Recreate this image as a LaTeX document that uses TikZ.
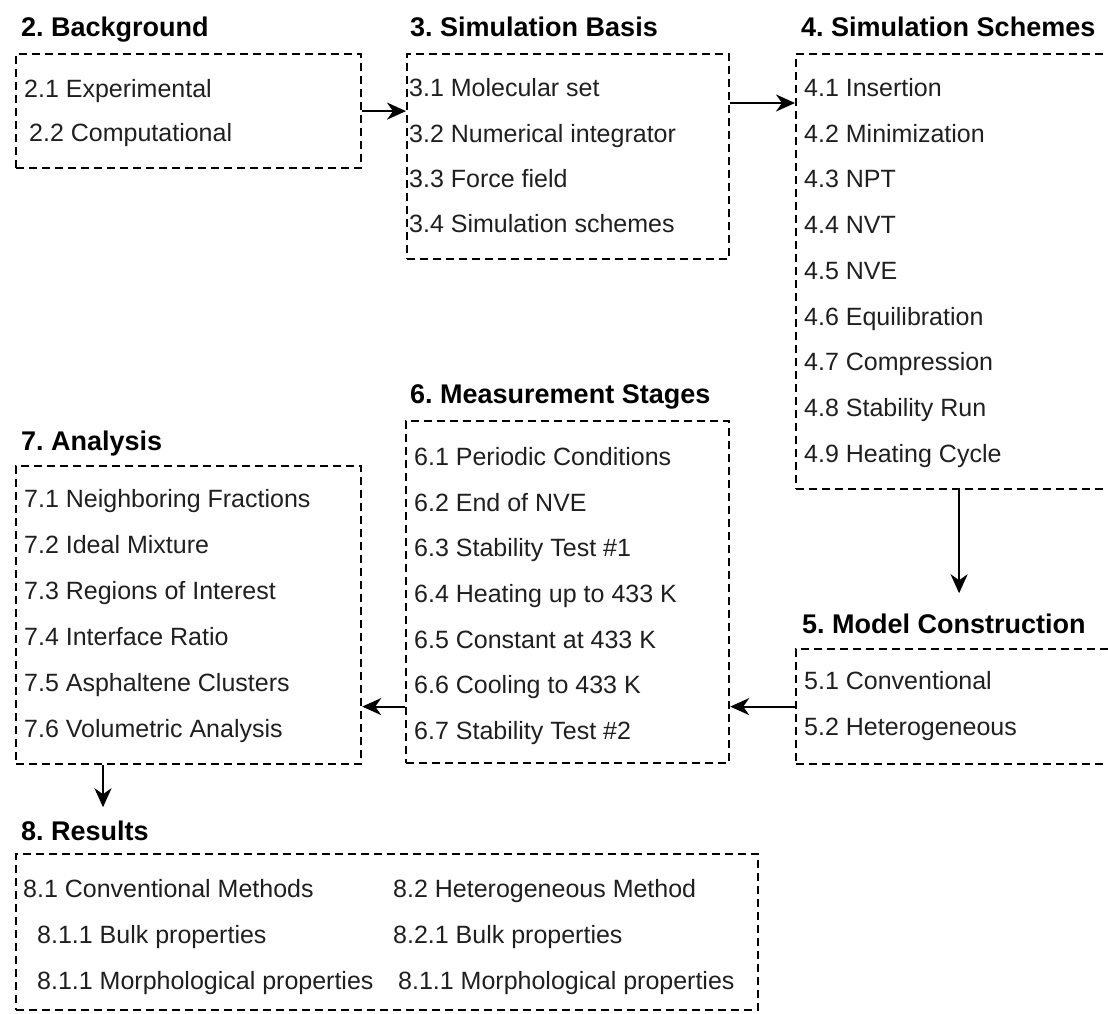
\documentclass[tikz,border=0pt]{standalone}
\usepackage{fontspec}
\setmainfont{Liberation Sans}
\usetikzlibrary{arrows.meta}
\frenchspacing

\begin{document}
\begin{tikzpicture}[x=1pt,y=-1pt,
  dashbox/.style={draw=black,line width=2.2pt,dash pattern=on 8pt off 5pt,inner sep=0pt,anchor=north west},
  head/.style={anchor=base west,inner sep=0pt,font=\fontsize{27}{32}\selectfont\bfseries},
  entry/.style={anchor=base west,inner sep=0pt,text=black!88,font=\fontsize{25}{30}\selectfont},
  arr/.style={-{Stealth[length=19pt,width=17pt,inset=6pt]},line width=2.2pt}]
\clip (0,0) rectangle (1108,1013);
% 2. Background
\node[head] (bgtitle) at (21,36) {2. Background};
\node[dashbox,minimum width=345pt,minimum height=114pt] (bgbox) at (15,53) {};
\node[entry] (bg1) at (24,97) {2.1 Experimental};
\node[entry] (bg2) at (29,141) {2.2 Computational};
% 3. Simulation Basis
\node[head] (sbtitle) at (410,36) {3. Simulation Basis};
\node[dashbox,minimum width=322pt,minimum height=205pt] (sbbox) at (406,53) {};
\node[entry] (sb1) at (409,96) {3.1 Molecular set};
\node[entry] (sb2) at (409,142) {3.2 Numerical integrator};
\node[entry] (sb3) at (409,187) {3.3 Force field};
\node[entry] (sb4) at (409,232) {3.4 Simulation schemes};
% 4. Simulation Schemes
\node[head] (sstitle) at (801,36) {4. Simulation Schemes};
\node[dashbox,minimum width=326pt,minimum height=435pt] (ssbox) at (795,53) {};
\node[entry] (ss1) at (804,96) {4.1 Insertion};
\node[entry] (ss2) at (804,142) {4.2 Minimization};
\node[entry] (ss3) at (804,187) {4.3 NPT};
\node[entry] (ss4) at (804,233) {4.4 NVT};
\node[entry] (ss5) at (804,279) {4.5 NVE};
\node[entry] (ss6) at (804,325) {4.6 Equilibration};
\node[entry] (ss7) at (804,370) {4.7 Compression};
\node[entry] (ss8) at (804,416) {4.8 Stability Run};
\node[entry] (ss9) at (804,462) {4.9 Heating Cycle};
% 5. Model Construction
\node[head] (mctitle) at (802,633) {5. Model Construction};
\node[dashbox,minimum width=326pt,minimum height=115pt] (mcbox) at (795,648) {};
\node[entry] (mc1) at (804,689) {5.1 Conventional};
\node[entry] (mc2) at (804,735) {5.2 Heterogeneous};
% 6. Measurement Stages
\node[head] (mstitle) at (410,403) {6. Measurement Stages};
\node[dashbox,minimum width=323pt,minimum height=342pt] (msbox) at (405,420) {};
\node[entry] (ms1) at (414,465) {6.1 Periodic Conditions};
\node[entry] (ms2) at (414,511) {6.2 End of NVE};
\node[entry] (ms3) at (414,556) {6.3 Stability Test \#1};
\node[entry] (ms4) at (414,602) {6.4 Heating up to 433 K};
\node[entry] (ms5) at (414,648) {6.5 Constant at 433 K};
\node[entry] (ms6) at (414,693) {6.6 Cooling to 433 K};
\node[entry] (ms7) at (414,739) {6.7 Stability Test \#2};
% 7. Analysis
\node[head] (antitle) at (21,450) {7. Analysis};
\node[dashbox,minimum width=345pt,minimum height=298pt] (anbox) at (15,465) {};
\node[entry] (an1) at (24,507) {7.1 Neighboring Fractions};
\node[entry] (an2) at (24,553) {7.2 Ideal Mixture};
\node[entry] (an3) at (24,599) {7.3 Regions of Interest};
\node[entry] (an4) at (24,645) {7.4 Interface Ratio};
\node[entry] (an5) at (24,691) {7.5 Asphaltene Clusters};
\node[entry] (an6) at (24,737) {7.6 Volumetric Analysis};
% 8. Results
\node[head] (rstitle) at (21,840) {8. Results};
\node[dashbox,minimum width=742pt,minimum height=156pt] (rsbox) at (15,853) {};
\node[entry] (rs1) at (23,897) {8.1 Conventional Methods};
\node[entry] (rs2) at (37,943) {8.1.1 Bulk properties};
\node[entry] (rs3) at (37,989) {8.1.1 Morphological properties};
\node[entry] (rs4) at (393,897) {8.2 Heterogeneous Method};
\node[entry] (rs5) at (393,943) {8.2.1 Bulk properties};
\node[entry] (rs6) at (398,989) {8.1.1 Morphological properties};
% connectors
\draw[arr] (bgbox.east) -- (bgbox.east -| sbbox.west);
\draw[arr] (sbbox.east |- 0,103) -- (ssbox.west |- 0,103);
\draw[arr,shorten >=20pt] (ssbox.south) -- (ssbox.south |- mctitle.north);
\draw[arr] (mcbox.west) -- (mcbox.west -| msbox.east);
\draw[arr] (msbox.west |- mcbox.west) -- (anbox.east |- mcbox.west);
\draw[arr,shorten >=13pt] (anbox.south -| 103,0) -- (rstitle.north -| 103,0);
\end{tikzpicture}
\end{document}
